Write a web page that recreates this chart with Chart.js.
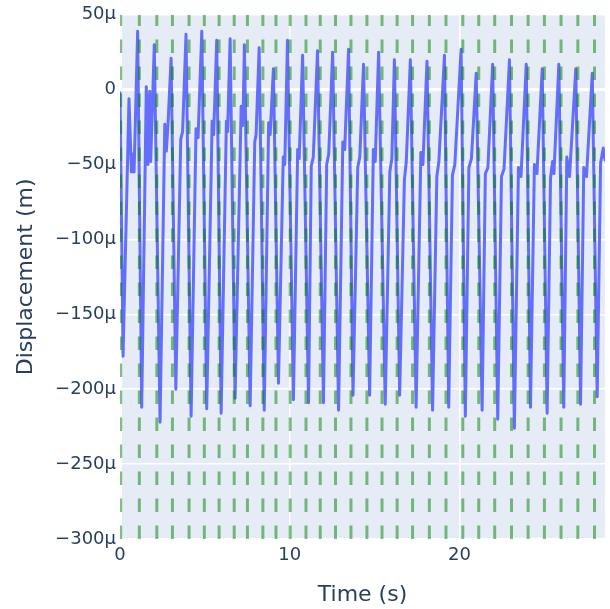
<!DOCTYPE html>
<html>
<head>
<meta charset="utf-8">
<script src="https://cdn.jsdelivr.net/npm/chart.js@4/dist/chart.umd.min.js"></script>
<style>
    html, body { margin: 0; padding: 0; background: #ffffff; }
    #wrap { width: 610px; height: 609px; position: relative; }
</style>
</head>
<body>
<div id="wrap"><canvas id="dispChart"></canvas></div>
<script>
// Tiempo (s) y desplazamiento (en micrometros)
const timeS = [
    0.00, 0.18, 0.53, 0.67, 0.77, 0.83, 1.04, 1.28, 1.55, 1.65, 1.75, 1.81,
    2.02, 2.36, 2.64, 2.73, 2.83, 3.01, 3.29, 3.58, 3.69, 3.89, 4.19, 4.48,
    4.60, 4.82, 5.11, 5.43, 5.52, 5.70, 5.96, 6.27, 6.34, 6.49, 6.78, 7.14,
    7.22, 7.26, 7.33, 7.67, 7.94, 8.02, 8.20, 8.50, 8.76, 8.85, 9.04, 9.34,
    9.62, 9.71, 9.87, 10.22, 10.47, 10.56, 10.76, 11.11, 11.27, 11.39, 11.64,
    11.99, 12.18, 12.30, 12.53, 12.88, 13.13, 13.24, 13.47, 13.73, 14.01,
    14.13, 14.35, 14.71, 14.93, 15.04, 15.24, 15.63, 15.90, 16.02, 16.17,
    16.48, 16.76, 16.87, 17.11, 17.45, 17.73, 17.85, 18.09, 18.42, 18.67,
    18.79, 19.12, 19.37, 19.59, 19.73, 20.10, 20.35, 20.56, 20.71, 20.99,
    21.34, 21.53, 21.68, 21.96, 22.26, 22.48, 22.63, 22.95, 23.24, 23.48,
    23.63, 23.94, 24.19, 24.42, 24.57, 24.88, 25.17, 25.37, 25.49, 25.57,
    25.86, 26.15, 26.33, 26.49, 26.86, 27.14, 27.33, 27.49, 27.83, 28.12,
    28.32, 28.48, 28.58
];
const dispUm = [
    -2, -178, -6, -55, -43, -55, 39, -212, 2, -50, -1, -48,
    30, -222, -23, -41, -23, 21, -200, -33, -28, 37, -218, -26,
    -32, 39, -213, -21, -30, 33, -216, -21, -28, 34, -206, -11,
    -24, -14, 30, -211, -35, -30, 28, -214, -22, -30, 14, -196,
    -45, -50, 33, -207, -40, -46, 23, -209, -51, -45, 26,
    -209, -50, -43, 25, -214, -35, -40, 27, -204, -52,
    -45, 17, -204, -40, -48, 25, -210, -55, -46, 20,
    -204, -60, -48, 20, -212, -42, -50, 19, -214, -58,
    -48, 23, -212, -57, -50, 27, -218, -52, -46, 11,
    -214, -56, -52, 17, -220, -58, -53, 20, -226, -52,
    -58, 17, -212, -50, -56, 14, -216, -59, -48, -56,
    17, -212, -45, -58, 14, -210, -52, -58, 11, -205,
    -49, -39, -47
];
// Lineas verticales verdes (s)
const markerTimes = [
    0.04, 1.14, 2.17, 3.09, 4.07, 4.97, 5.84, 6.73, 7.51, 8.42, 9.19,
    10.03, 10.96, 11.80, 12.70, 13.61, 14.55, 15.44, 16.33, 17.24, 18.23,
    19.21, 20.20, 21.14, 22.08, 23.07, 24.05, 25.01, 25.99, 26.98, 27.96
];
const yMin = -300;
const yMax = 50;
const xTicks = [0, 10, 20];

document.addEventListener("DOMContentLoaded", function () {
    const ctx = document.getElementById("dispChart").getContext("2d");

    // Fondo del area de graficos estilo plotly
    const plotBg = {
        id: "plotBg",
        beforeDraw(chart) {
            const a = chart.chartArea;
            chart.ctx.save();
            chart.ctx.fillStyle = "#E5ECF6";
            chart.ctx.fillRect(a.left, a.top, a.right - a.left, a.bottom - a.top);
            chart.ctx.restore();
        },
    };

    const markerSets = markerTimes.map((t) => ({
        type: "line",
        data: [
            { x: t, y: yMin },
            { x: t, y: yMax },
        ],
        borderColor: "rgba(0, 128, 0, 0.5)",
        borderWidth: 3,
        borderDash: [13.5, 13.5],
        pointRadius: 0,
        fill: false,
    }));

    const signal = {
        type: "line",
        data: timeS.map((t, i) => ({ x: t, y: dispUm[i] })),
        borderColor: "#636efa",
        borderWidth: 3,
        borderJoinStyle: "round",
        borderCapStyle: "round",
        pointRadius: 0,
        tension: 0,
        fill: false,
    };

    const tickFont = { family: "'DejaVu Sans', Verdana, sans-serif", size: 18 };
    const titleFont = { family: "'DejaVu Sans', Verdana, sans-serif", size: 22 };

    new Chart(ctx, {
        type: "line",
        data: { datasets: [...markerSets, signal] },
        plugins: [plotBg],
        options: {
            responsive: true,
            maintainAspectRatio: false,
            animation: false,
            layout: { padding: { top: 13, right: 5, bottom: 0, left: 0 } },
            plugins: {
                legend: { display: false },
                tooltip: { enabled: false },
            },
            scales: {
                x: {
                    type: "linear",
                    min: 0,
                    max: timeS[timeS.length - 1],
                    afterFit: (scale) => { scale.height = 70; },
                    afterBuildTicks: (scale) => {
                        scale.ticks = xTicks.map((v) => ({ value: v }));
                    },
                    border: { display: false },
                    grid: {
                        color: "#ffffff",
                        lineWidth: (c) => (c.tick && c.tick.value === 0 ? 3 : 1.5),
                        drawTicks: false,
                    },
                    ticks: {
                        color: "#2a3f5f",
                        font: tickFont,
                        padding: 6,
                        maxRotation: 0,
                    },
                    title: {
                        display: true,
                        text: "Time (s)",
                        color: "#2a3f5f",
                        font: titleFont,
                        padding: { top: 0, bottom: 1 },
                    },
                },
                y: {
                    min: yMin,
                    max: yMax,
                    afterFit: (scale) => { scale.width = 120; },
                    border: { display: false },
                    grid: {
                        color: "#ffffff",
                        lineWidth: (c) => (c.tick && c.tick.value === 0 ? 3 : 1.5),
                        drawTicks: false,
                    },
                    ticks: {
                        stepSize: 50,
                        color: "#2a3f5f",
                        font: tickFont,
                        padding: 4,
                        callback: function (v) {
                            if (v === 0) return "0";
                            return (v < 0 ? "\u2212" : "") + Math.abs(v) + "\u00b5";
                        },
                    },
                    title: {
                        display: true,
                        text: "Displacement (m)",
                        color: "#2a3f5f",
                        font: titleFont,
                        padding: { top: 13, bottom: 0 },
                    },
                },
            },
        },
    });
});
</script>
</body>
</html>
